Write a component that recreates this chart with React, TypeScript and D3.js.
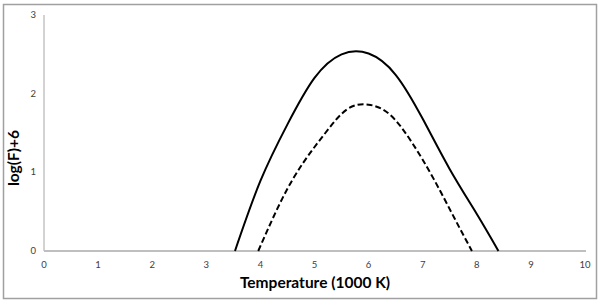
import React, { useRef, useEffect } from 'react';
import * as d3 from 'd3';

// temperature (1000 K) vs log(F)+6
const solidT = [3.53, 4.0, 4.5, 5.0, 5.5, 6.0, 6.5, 7.0, 7.5, 8.0, 8.4];
const solidY = [0, 0.89, 1.61, 2.2, 2.5, 2.51, 2.24, 1.68, 1.04, 0.47, 0];
const dashT = [3.96, 4.4, 4.8, 5.2, 5.6, 6.0, 6.4, 6.8, 7.2, 7.6, 7.91];
const dashY = [0, 0.66, 1.13, 1.5, 1.8, 1.86, 1.73, 1.38, 0.92, 0.4, 0];
const xTicks = [0, 1, 2, 3, 4, 5, 6, 7, 8, 9, 10];
const yTicks = [0, 1, 2, 3];

const W = 600;
const H = 302;

function App() {
  const svgRef = useRef<SVGSVGElement>(null);

  useEffect(() => {
    const svg = d3.select(svgRef.current);
    svg.selectAll('*').remove();

    const x = d3.scaleLinear().domain([0, 10]).range([44, 585]);
    const y = d3.scaleLinear().domain([0, 3]).range([251, 15]);
    const font = 'Lato, "Open Sans", sans-serif';

    // outer chart border
    svg.append('rect')
      .attr('x', 3.5).attr('y', 4.5)
      .attr('width', W - 7).attr('height', H - 8)
      .attr('fill', 'white').attr('stroke', '#a0a0a0').attr('stroke-width', 1.5);

    // axes lines
    svg.append('line')
      .attr('x1', x(0)).attr('x2', x(0)).attr('y1', y(3)).attr('y2', y(0))
      .attr('stroke', '#a6a6a6').attr('stroke-width', 1);
    svg.append('line')
      .attr('x1', x(0)).attr('x2', x(10) + 1).attr('y1', y(0)).attr('y2', y(0))
      .attr('stroke', '#bfbfbf').attr('stroke-width', 2);

    // tick labels
    svg.selectAll('.xt')
      .data(xTicks)
      .join('text')
      .attr('x', d => x(d))
      .attr('y', 268)
      .attr('text-anchor', 'middle')
      .attr('font-family', font)
      .attr('font-size', 9.5)
      .attr('fill', '#404040')
      .text(d => d);

    svg.selectAll('.yt')
      .data(yTicks)
      .join('text')
      .attr('x', 36)
      .attr('y', d => y(d) + 3)
      .attr('text-anchor', 'end')
      .attr('font-family', font)
      .attr('font-size', 9.5)
      .attr('fill', '#404040')
      .text(d => d);

    // axis titles
    svg.append('text')
      .attr('x', 315).attr('y', 288)
      .attr('text-anchor', 'middle')
      .attr('font-family', font)
      .attr('font-weight', 'bold')
      .attr('font-size', 15.5)
      .attr('fill', '#000')
      .text('Temperature (1000 K)');

    svg.append('text')
      .attr('transform', 'translate(19,158) rotate(-90)')
      .attr('text-anchor', 'middle')
      .attr('font-family', font)
      .attr('font-weight', 'bold')
      .attr('font-size', 15.5)
      .attr('fill', '#000')
      .text('log(F)+6');

    const line = d3.line<[number, number]>()
      .x(d => x(d[0]))
      .y(d => y(d[1]))
      .curve(d3.curveNatural);

    svg.append('path')
      .attr('d', line(d3.zip(solidT, solidY) as [number, number][]))
      .attr('fill', 'none').attr('stroke', '#000').attr('stroke-width', 2);

    svg.append('path')
      .attr('d', line(d3.zip(dashT, dashY) as [number, number][]))
      .attr('fill', 'none').attr('stroke', '#000').attr('stroke-width', 2)
      .attr('stroke-dasharray', '6,3');
  }, []);

  return (
    <svg ref={svgRef} width={W} height={H}
      style={{ position: 'absolute', left: 0, top: 0, background: 'white' }} />
  );
}

export default App;
